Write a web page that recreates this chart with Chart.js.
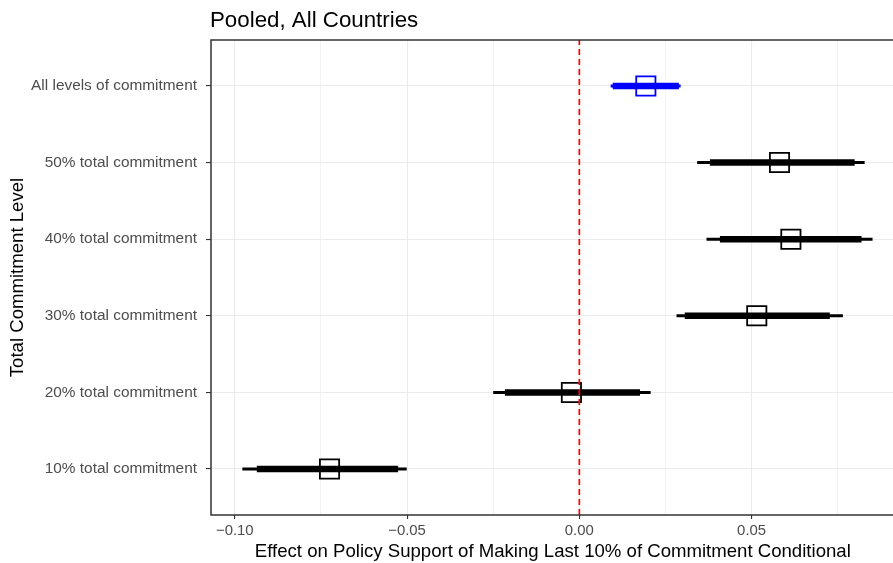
<!DOCTYPE html>
<html lang="en">
<head>
    <meta charset="UTF-8">
    <title>Pooled, All Countries</title>
    <script src="https://cdn.jsdelivr.net/npm/chart.js"></script>
    <style>
        html, body {
            margin: 0;
            padding: 0;
            background: white;
            overflow: hidden;
        }

        /* a bit wider than the window: the panel runs off the right edge, as in the original */
        .chart-box {
            position: relative;
            width: 910px;
            height: 563px;
        }

        canvas {
            display: block;
        }
    </style>
</head>
<body>
    <div class="chart-box">
        <canvas id="coefChart"></canvas>
    </div>

    <script>
        // Rows from bottom to top
        const categories = [
            '10% total commitment',
            '20% total commitment',
            '30% total commitment',
            '40% total commitment',
            '50% total commitment',
            'All levels of commitment'
        ];
        const estimates = [-0.0725, -0.0023, 0.0515, 0.0614, 0.0581, 0.0193];
        const ci95Low   = [-0.0978, -0.0250, 0.0282, 0.0369, 0.0342, 0.0091];
        const ci95High  = [-0.0501,  0.0207, 0.0765, 0.0851, 0.0828, 0.0294];
        const ci90Low   = [-0.0936, -0.0216, 0.0306, 0.0408, 0.0379, 0.0097];
        const ci90High  = [-0.0526,  0.0176, 0.0727, 0.0819, 0.0799, 0.0289];

        const xMajorTicks = [-0.10, -0.05, 0, 0.05];
        const xTickLabels = ['\u22120.10', '\u22120.05', '0.00', '0.05'];
        const xMinorTicks = [-0.075, -0.025, 0.025, 0.075];

        const pooledRow = 'All levels of commitment';
        const rowColor = (cat) => cat === pooledRow ? '#0000FF' : '#000000';
        const isMajor = (v) => xMajorTicks.some(t => Math.abs(t - v) < 1e-9);

        Chart.defaults.font.family = "'Liberation Sans', Arial, sans-serif";

        const datasets = [];

        // zero reference line
        datasets.push({
            data: [{ x: 0, y: 0.4 }, { x: 0, y: categories.length + 0.6 }],
            showLine: true,
            borderColor: '#FF0000',
            borderWidth: 1.7,
            borderDash: [6, 4],
            pointRadius: 0
        });

        // point estimates (hollow squares)
        datasets.push({
            data: categories.map((c, i) => ({ x: estimates[i], y: i + 1 })),
            pointStyle: 'rect',
            pointRadius: 13.6,
            pointBorderWidth: 1.8,
            pointBorderColor: categories.map(rowColor),
            pointBackgroundColor: 'rgba(0,0,0,0)',
            showLine: false
        });

        // thick (90%) and thin (95%) intervals
        categories.forEach((c, i) => {
            datasets.push({
                data: [{ x: ci90Low[i], y: i + 1 }, { x: ci90High[i], y: i + 1 }],
                showLine: true,
                borderColor: rowColor(c),
                borderWidth: 6.5,
                pointRadius: 0
            });
            datasets.push({
                data: [{ x: ci95Low[i], y: i + 1 }, { x: ci95High[i], y: i + 1 }],
                showLine: true,
                borderColor: rowColor(c),
                borderWidth: 3,
                pointRadius: 0
            });
        });

        // panel border and title
        const panelPlugin = {
            id: 'panelPlugin',
            afterDraw(chart) {
                const { ctx, chartArea } = chart;
                ctx.save();
                ctx.strokeStyle = '#333333';
                ctx.lineWidth = 1.5;
                ctx.strokeRect(chartArea.left, chartArea.top,
                    chartArea.right - chartArea.left, chartArea.bottom - chartArea.top);
                ctx.fillStyle = '#000000';
                ctx.font = "22.3px 'Liberation Sans', Arial, sans-serif";
                ctx.textAlign = 'left';
                ctx.textBaseline = 'alphabetic';
                ctx.fillText('Pooled, All Countries', chartArea.left - 1, 27);
                ctx.restore();
            }
        };

        new Chart(document.getElementById('coefChart'), {
            type: 'scatter',
            data: { datasets: datasets },
            options: {
                responsive: true,
                maintainAspectRatio: false,
                animation: false,
                events: [],
                layout: { padding: { top: 40, right: 0, left: 0, bottom: 0 } },
                plugins: {
                    legend: { display: false },
                    tooltip: { enabled: false }
                },
                scales: {
                    x: {
                        type: 'linear',
                        min: -0.1069,
                        max: 0.0915,
                        afterBuildTicks: (scale) => {
                            scale.ticks = xMajorTicks.concat(xMinorTicks)
                                .sort((a, b) => a - b)
                                .map(v => ({ value: v }));
                        },
                        afterFit: (scale) => {
                            scale.height = 48;
                            scale.paddingLeft = 0;
                            scale.paddingRight = 0;
                        },
                        border: { display: false },
                        grid: {
                            color: '#EBEBEB',
                            lineWidth: (ctx) => ctx.tick && isMajor(ctx.tick.value) ? 1.1 : 0.6,
                            tickColor: (ctx) => ctx.tick && isMajor(ctx.tick.value) ? '#333333' : 'rgba(0,0,0,0)',
                            tickLength: 4,
                            tickWidth: 1.1
                        },
                        ticks: {
                            autoSkip: false,
                            maxRotation: 0,
                            padding: 3,
                            color: '#4D4D4D',
                            font: { size: 14.9 },
                            callback: (v) => {
                                const k = xMajorTicks.findIndex(t => Math.abs(t - v) < 1e-9);
                                return k >= 0 ? xTickLabels[k] : '';
                            }
                        },
                        title: {
                            display: true,
                            text: 'Effect on Policy Support of Making Last 10% of Commitment Conditional',
                            color: '#000000',
                            font: { size: 18.6 },
                            padding: { top: 0, bottom: 0 }
                        }
                    },
                    y: {
                        type: 'linear',
                        min: 0.4,
                        max: categories.length + 0.6,
                        afterBuildTicks: (scale) => {
                            scale.ticks = categories.map((c, i) => ({ value: i + 1 }));
                        },
                        afterFit: (scale) => {
                            scale.width = 211;
                            scale.paddingTop = 0;
                            scale.paddingBottom = 0;
                        },
                        border: { display: false },
                        grid: {
                            color: '#EBEBEB',
                            lineWidth: 1.1,
                            tickColor: '#333333',
                            tickLength: 5,
                            tickWidth: 1.1
                        },
                        ticks: {
                            autoSkip: false,
                            padding: 9,
                            color: '#4D4D4D',
                            font: { size: 15.4 },
                            callback: (v) => categories[Math.round(v) - 1]
                        },
                        title: {
                            display: true,
                            text: 'Total Commitment Level',
                            color: '#000000',
                            font: { size: 18.6 },
                            padding: { top: 7, bottom: 0 }
                        }
                    }
                }
            },
            plugins: [panelPlugin]
        });
    </script>
</body>
</html>
